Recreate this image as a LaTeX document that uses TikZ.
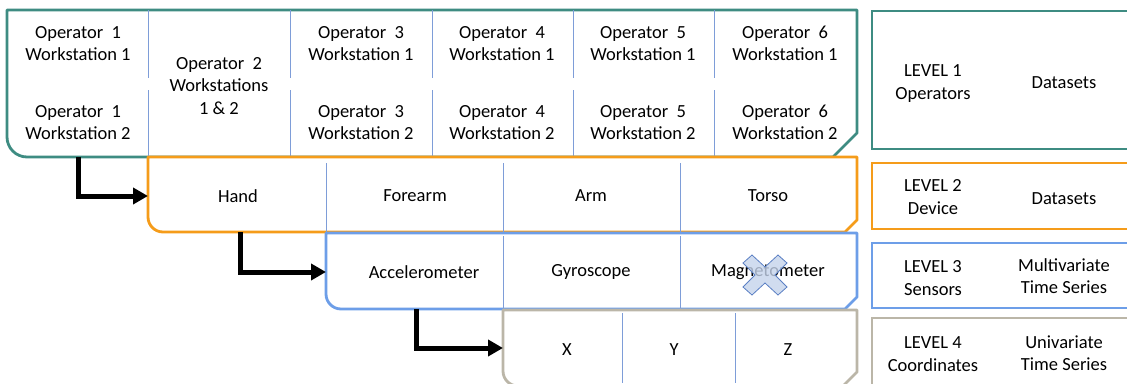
\documentclass[tikz,border=0pt]{standalone}
\usepackage{fontspec}
\setmainfont{Carlito}
\usetikzlibrary{arrows.meta}
\definecolor{tealc}{HTML}{3E8C82}
\definecolor{orgc}{HTML}{F59C1A}
\definecolor{bluc}{HTML}{6D9EE8}
\definecolor{gryc}{HTML}{BBB6A8}
\definecolor{divc}{HTML}{7E9DD8}
\definecolor{xfill}{HTML}{C5D4EC}
\definecolor{xline}{HTML}{5B80C4}
\begin{document}
\begin{tikzpicture}[x=1pt,y=-1pt,
  lbl/.style={font=\fontsize{18.5}{22.5}\selectfont, align=center, inner sep=0pt},
  frame/.style={line width=2.8pt, fill=white, line join=round},
  divline/.style={draw=divc, line width=1pt},
  flow/.style={line width=5pt, line join=miter, -{Triangle[length=15pt,width=16pt]}}]
\useasboundingbox (0,0) rectangle (1127,383);
\clip (0,0) rectangle (1127,383);

% Level 1 box
\draw[frame, draw=tealc] (7,10) -- (857,10) -- (857,133) -- (833,157) -- (27,157)
  arc[start angle=90, end angle=180, radius=20] -- cycle;
\foreach \x in {148,290,432,573,714} {
  \draw[divline] (\x,10) -- (\x,78);
  \draw[divline] (\x,90) -- (\x,157);
}
\node[lbl] (o1w1) at (78,43.5) {Operator\ \ 1\\Workstation 1};
\node[lbl] (o1w2) at (78,122.5) {Operator\ \ 1\\Workstation 2};
\node[lbl] (o2w) at (219,86) {Operator\ \ 2\\Workstations\\1 \& 2};
\node[lbl] (o3w1) at (361,43.5) {Operator\ \ 3\\Workstation 1};
\node[lbl] (o3w2) at (361,122.5) {Operator\ \ 3\\Workstation 2};
\node[lbl] (o4w1) at (502,43.5) {Operator\ \ 4\\Workstation 1};
\node[lbl] (o4w2) at (502,122.5) {Operator\ \ 4\\Workstation 2};
\node[lbl] (o5w1) at (643,43.5) {Operator\ \ 5\\Workstation 1};
\node[lbl] (o5w2) at (643,122.5) {Operator\ \ 5\\Workstation 2};
\node[lbl] (o6w1) at (785,43.5) {Operator\ \ 6\\Workstation 1};
\node[lbl] (o6w2) at (785,122.5) {Operator\ \ 6\\Workstation 2};

% Level 2 box
\draw[frame, draw=orgc] (148,157) -- (857,157) -- (857,220) -- (845,232) -- (163,232)
  arc[start angle=90, end angle=180, radius=15] -- cycle;
\foreach \x in {326,503,680} \draw[divline] (\x,163) -- (\x,232);
\node[lbl] (hand) at (238,196) {Hand};
\node[lbl] (forearm) at (415,196) {Forearm};
\node[lbl] (arm) at (591,196) {Arm};
\node[lbl] (torso) at (768,196) {Torso};

% Level 3 box
\draw[frame, draw=bluc] (326,233) -- (857,233) -- (857,297) -- (845,309) -- (341,309)
  arc[start angle=90, end angle=180, radius=15] -- cycle;
\foreach \x in {503,680} \draw[divline] (\x,236) -- (\x,309);
\node[lbl] (acc) at (424,272) {Accelerometer};
\node[lbl] (gyr) at (591,272) {Gyroscope};
\node[lbl] (mag) at (768,272) {Magnetometer};
\draw[fill=xfill, fill opacity=0.8, draw=xline, line width=0.8pt]
  (765,275) ++(-22,-12) -- ++(9,-8) -- ++(13,12) -- ++(13,-12) -- ++(9,8) -- ++(-12,12)
  -- ++(12,12) -- ++(-9,8) -- ++(-13,-12) -- ++(-13,12) -- ++(-9,-8) -- ++(12,-12) -- cycle;

% Level 4 box
\draw[frame, draw=gryc] (503,310) -- (857,310) -- (857,372) -- (843,386) -- (518,386)
  arc[start angle=90, end angle=180, radius=15] -- cycle;
\foreach \x in {622,735} \draw[divline] (\x,313) -- (\x,383);
\node[lbl] (cx) at (567,350) {X};
\node[lbl] (cy) at (674,350) {Y};
\node[lbl] (cz) at (788,350) {Z};

% Connectors
\coordinate (s1) at (78,157);
\coordinate (e1) at (148,196);
\coordinate (s2) at (240,232);
\coordinate (e2) at (326,272);
\coordinate (s3) at (416,309);
\coordinate (e3) at (503,348);
\draw[flow] (s1) |- (e1);
\draw[flow] (s2) |- (e2);
\draw[flow] (s3) |- (e3);

% Legend
\draw[line width=2.8pt, draw=tealc] (872,11) rectangle (1140,149);
\draw[line width=2.8pt, draw=orgc] (872,163) rectangle (1140,229);
\draw[line width=2.8pt, draw=bluc] (872,243) rectangle (1140,308);
\draw[line width=2.8pt, draw=gryc] (872,318) rectangle (1140,395);
\node[lbl] (lv1) at (933,83.5) {LEVEL 1\\Operators};
\node[lbl] (ds1) at (1064,83) {Datasets};
\node[lbl] (lv2) at (933,197) {LEVEL 2\\Device};
\node[lbl] (ds2) at (1064,199) {Datasets};
\node[lbl] (lv3) at (933,278) {LEVEL 3\\Sensors};
\node[lbl] (ds3) at (1064,276) {Multivariate\\Time Series};
\node[lbl] (lv4) at (933,354) {LEVEL 4\\Coordinates};
\node[lbl] (ds4) at (1064,353) {Univariate\\Time Series};
\end{tikzpicture}
\end{document}
